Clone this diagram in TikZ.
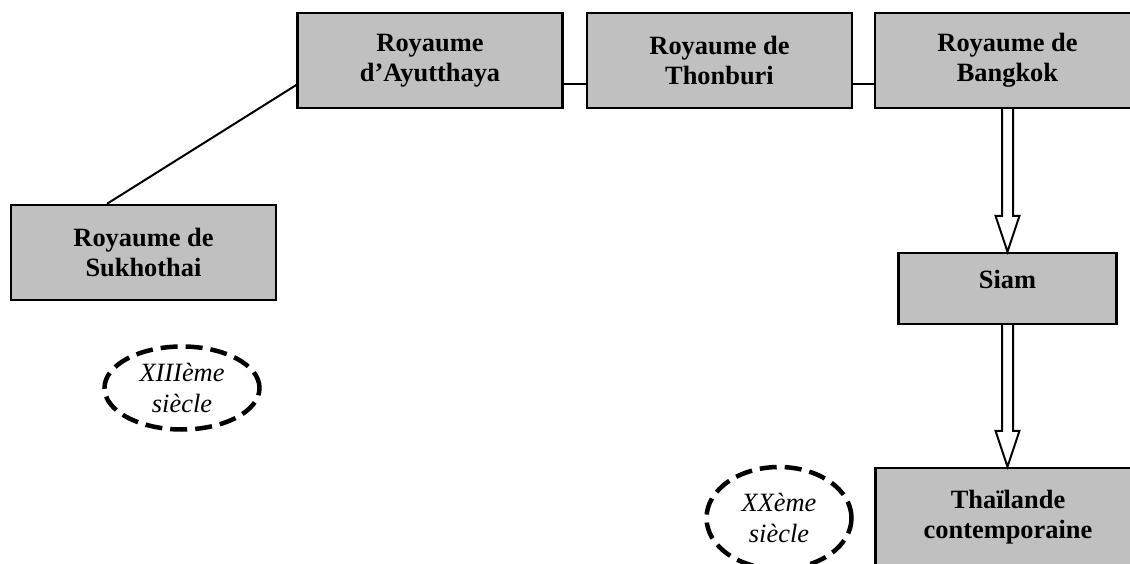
\documentclass[tikz,border=0pt]{standalone}
\usepackage{fontspec}
\setmainfont{Liberation Serif}
\usetikzlibrary{shapes.geometric}
\definecolor{boxgray}{HTML}{C0C0C0}
\begin{document}
\begin{tikzpicture}[x=1pt,y=1pt,line join=miter,
  royaume/.style={draw,fill=boxgray,line width=2.4pt,minimum width=265pt,minimum height=95pt,align=center,font=\bfseries\fontsize{26.4}{30.5}\selectfont},
  siecle/.style={ellipse,draw,line width=4.5pt,dash pattern=on 17pt off 8pt,align=center,inner sep=0pt,font=\itshape\fontsize{26.4}{30.5}\selectfont},
  lien/.style={line width=2pt}]
\useasboundingbox (0,0) rectangle (1130,563);
\clip (0,0) rectangle (1130,563);
\node[royaume] (ayut) at (430,502.5) {Royaume\\d’Ayutthaya};
\node[royaume] (thon) at (719.5,502.5) {Royaume de\\Thonburi};
\node[royaume] (bang) at (1007.5,502.5) {Royaume de\\Bangkok};
\node[royaume] (sukh) at (143.5,310.5) {Royaume de\\Sukhothai};
\node[royaume,minimum width=218pt,minimum height=71pt,text height=18pt,text depth=18pt] (siam) at (1007.5,274.5) {Siam};
\node[royaume,minimum height=98pt] (thai) at (1008,46) {Thaïlande\\contemporaine};
\node[siecle,minimum width=155pt,minimum height=83pt] (xiii) at (182,175) {XIIIème\\siècle};
\node[siecle,minimum width=145pt,minimum height=102pt] (xx) at (779,45) {XXème\\siècle};
% liens
\draw[lien] ([yshift=-24.5pt]ayut.west) -- ([xshift=-36.5pt]sukh.north);
\foreach \a/\b in {ayut/thon,thon/bang}
  \draw[lien] ([yshift=-23.5pt]\a.east) -- ([yshift=-23.5pt]\b.west);
\foreach \a/\b in {bang/siam,siam/thai}{
  \coordinate (tip) at (\a.south |- \b.north);
  \draw[lien,fill=white] ([xshift=-5.5pt]\a.south) -- ([xshift=-5.5pt,yshift=36pt]tip) -- ([xshift=-12pt,yshift=36pt]tip) -- (tip) -- ([xshift=12pt,yshift=36pt]tip) -- ([xshift=5.5pt,yshift=36pt]tip) -- ([xshift=5.5pt]\a.south);
}
\end{tikzpicture}
\end{document}
